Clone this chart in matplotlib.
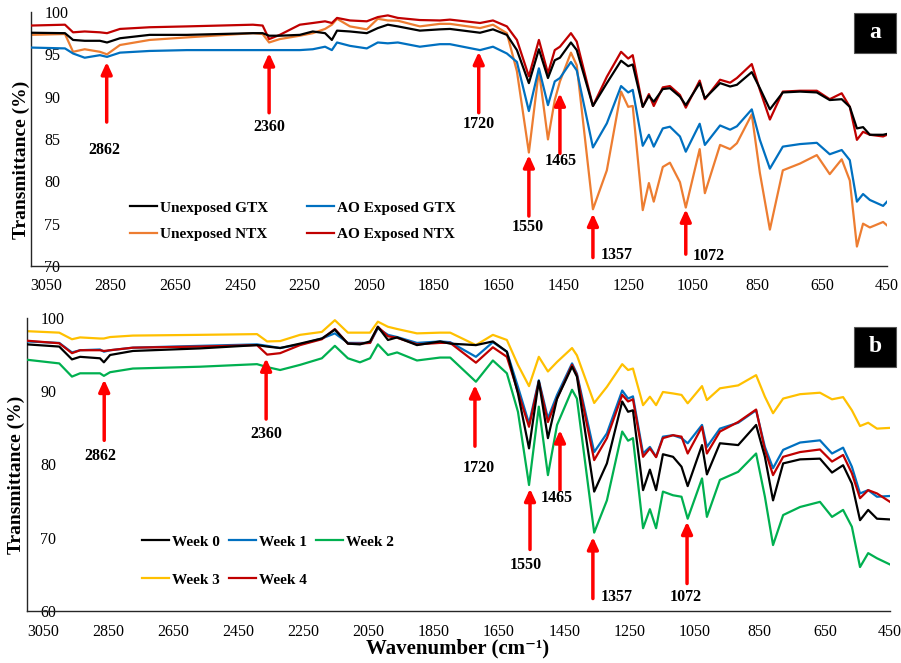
import matplotlib
matplotlib.use("Agg")
import matplotlib.pyplot as plt
from matplotlib.patches import Rectangle

plt.rcParams['font.family'] = ['Liberation Serif', 'DejaVu Serif']

# ---------------- Panel a data ----------------
wn_a = [3096, 2991, 2966, 2930, 2883, 2861, 2821, 2729, 2614, 2410,
        2380, 2360, 2327, 2265, 2225, 2187, 2166, 2150, 2110, 2058,
        2024, 1993, 1962, 1894, 1832, 1801, 1708, 1668, 1625, 1594,
        1557, 1526, 1498, 1477, 1461, 1427, 1409, 1359, 1316, 1272,
        1250, 1236, 1205, 1186, 1171, 1143, 1121, 1090, 1072, 1029,
        1013, 966, 935, 914, 868, 843, 812, 772, 719, 667,
        627, 590, 565, 543, 524, 503, 462, 450]

unexposed_gtx = [97.55, 97.5, 96.7, 96.6, 96.6, 96.4, 96.9, 97.3, 97.3, 97.5,
                 97.5, 97.2, 97.2, 97.3, 97.7, 97.5, 96.7, 97.8, 97.7, 97.5,
                 98.1, 98.5, 98.3, 97.8, 97.95, 98.0, 97.55, 97.95, 97.3, 95.5,
                 91.6, 95.6, 92.2, 94.3, 94.6, 96.4, 95.5, 88.9, 91.6, 94.25,
                 93.6, 93.8, 88.8, 90.1, 89.4, 90.9, 91.0, 90.0, 89.0, 91.6,
                 89.8, 91.6, 91.2, 91.4, 92.9, 91.0, 88.5, 90.5, 90.6, 90.5,
                 89.6, 89.7, 88.8, 86.25, 86.4, 85.5, 85.5, 85.6]

ao_exposed_gtx = [95.8, 95.7, 95.1, 94.6, 94.9, 94.7, 95.2, 95.4, 95.5, 95.5,
                  95.5, 95.5, 95.5, 95.5, 95.6, 95.9, 95.5, 96.4, 96.0, 95.7,
                  96.4, 96.3, 96.4, 95.9, 96.2, 96.2, 95.5, 95.9, 95.1, 94.1,
                  88.3, 93.35, 89.0, 91.8, 92.2, 94.1, 93.1, 84.0, 86.85, 91.25,
                  90.5, 90.8, 84.2, 85.5, 84.1, 86.25, 86.45, 85.3, 83.5, 86.8,
                  84.3, 86.6, 86.1, 86.5, 88.5, 84.9, 81.5, 84.1, 84.4, 84.55,
                  83.2, 83.7, 82.5, 77.6, 78.5, 77.8, 77.1, 77.6]

unexposed_ntx = [97.3, 97.4, 95.3, 95.6, 95.3, 95.0, 96.1, 96.7, 97.0, 97.5,
                 97.4, 96.4, 96.8, 97.2, 97.5, 98.0, 98.5, 99.2, 98.3, 97.95,
                 99.2, 99.0, 98.97, 98.3, 98.6, 98.6, 98.1, 98.5, 97.5, 93.0,
                 83.4, 93.1, 84.95, 89.6, 91.8, 95.2, 93.7, 76.7, 81.3, 90.6,
                 88.8, 88.9, 76.6, 79.8, 77.6, 81.7, 82.2, 79.9, 76.9, 83.8,
                 78.6, 84.3, 83.8, 84.5, 87.9, 81.0, 74.3, 81.3, 82.1, 83.1,
                 80.85, 82.6, 80.1, 72.3, 75.0, 74.55, 75.2, 74.8]

ao_exposed_ntx = [98.4, 98.5, 97.6, 97.7, 97.6, 97.5, 98.0, 98.2, 98.3, 98.5,
                  98.4, 96.8, 97.3, 98.5, 98.7, 98.9, 98.7, 99.3, 99.0, 98.9,
                  99.4, 99.6, 99.3, 99.05, 99.0, 99.1, 98.7, 99.0, 98.3, 96.7,
                  92.4, 96.7, 92.75, 95.5, 95.9, 97.5, 96.5, 88.9, 92.35, 95.3,
                  94.5, 94.9, 88.8, 90.3, 88.9, 91.1, 91.25, 90.2, 88.7, 91.9,
                  89.7, 92.0, 91.65, 92.2, 93.85, 90.8, 87.3, 90.6, 90.7, 90.7,
                  89.7, 90.4, 88.8, 84.9, 85.85, 85.5, 85.3, 85.5]

# ---------------- Panel b data ----------------
wn_b = [3099, 3000, 2961, 2936, 2875, 2863, 2844, 2774, 2568, 2393,
        2362, 2322, 2261, 2194, 2154, 2114, 2077, 2046, 2022, 1991,
        1963, 1902, 1831, 1800, 1721, 1669, 1626, 1592, 1558, 1528,
        1500, 1472, 1426, 1411, 1358, 1319, 1272, 1254, 1239, 1208,
        1187, 1168, 1147, 1116, 1090, 1071, 1027, 1012, 972, 916,
        861, 834, 809, 778, 726, 665, 628, 594, 567, 542,
        517, 490, 450]

week0 = [96.4, 96.1, 94.35, 94.7, 94.5, 93.95, 94.95, 95.5, 95.85, 96.3,
         96.1, 95.9, 96.5, 97.2, 98.4, 96.5, 96.4, 96.8, 98.8, 97.0,
         97.35, 96.3, 96.8, 96.5, 96.3, 96.8, 95.4, 89.7, 82.2, 91.4,
         83.6, 89.0, 93.35, 92.0, 76.3, 80.15, 88.6, 87.2, 87.4, 76.5,
         79.3, 76.5, 81.4, 81.05, 79.7, 77.05, 82.65, 78.65, 82.9, 82.65,
         85.4, 81.05, 75.1, 80.15, 80.7, 80.8, 78.9, 79.9, 77.4, 72.4,
         73.8, 72.6, 72.5]

week1 = [96.8, 96.6, 95.3, 95.6, 95.7, 95.4, 95.6, 95.95, 96.2, 96.4,
         96.2, 95.9, 96.4, 97.2, 97.9, 96.6, 96.6, 96.6, 98.6, 97.7,
         97.4, 96.6, 96.8, 96.7, 94.7, 96.7, 95.4, 90.6, 85.6, 91.5,
         86.3, 89.5, 93.8, 92.4, 81.7, 84.25, 90.1, 89.0, 89.3, 81.5,
         82.4, 81.05, 83.8, 84.0, 83.6, 82.9, 85.4, 82.4, 84.9, 85.7,
         87.4, 82.4, 79.5, 82.0, 83.0, 83.3, 81.5, 82.3, 79.7, 76.05,
         76.5, 75.6, 75.7]

week2 = [94.3, 93.8, 92.0, 92.45, 92.45, 92.1, 92.6, 93.1, 93.35, 93.7,
         93.3, 92.9, 93.6, 94.5, 96.2, 94.5, 93.95, 94.5, 96.4, 94.95,
         95.3, 94.2, 94.6, 94.6, 91.3, 94.2, 92.45, 87.2, 77.2, 87.9,
         78.55, 85.4, 90.2, 89.0, 70.7, 75.1, 84.5, 83.25, 83.6, 71.3,
         73.9, 71.3, 76.3, 75.8, 75.6, 72.6, 78.1, 72.85, 77.9, 79.0,
         81.5, 75.6, 69.0, 73.1, 74.2, 74.9, 72.85, 73.8, 71.5, 66.0,
         67.9, 67.2, 66.35]

week3 = [98.2, 98.0, 97.1, 97.35, 97.2, 97.2, 97.4, 97.6, 97.7, 97.8,
         96.8, 96.85, 97.7, 98.1, 99.7, 98.0, 98.0, 98.0, 99.5, 98.8,
         98.5, 97.9, 98.0, 98.0, 96.3, 97.7, 97.0, 93.6, 90.7, 94.7,
         92.7, 94.0, 95.9, 94.9, 88.4, 90.6, 93.7, 92.9, 93.1, 88.1,
         89.25, 88.1, 89.9, 89.7, 89.5, 88.35, 90.7, 88.8, 90.4, 90.8,
         92.2, 89.25, 87.0, 89.0, 89.6, 89.8, 88.9, 89.2, 87.4, 85.25,
         85.7, 84.9, 85.0]

week4 = [96.9, 96.55, 95.2, 95.6, 95.6, 95.5, 95.6, 95.95, 96.1, 96.3,
         95.0, 95.2, 96.3, 97.1, 98.5, 96.5, 96.5, 96.6, 98.8, 97.5,
         97.3, 96.4, 96.6, 96.6, 93.9, 96.0, 94.7, 89.9, 85.15, 91.3,
         85.8, 89.0, 93.6, 92.2, 80.6, 83.6, 89.5, 88.6, 88.9, 81.05,
         82.2, 81.0, 83.6, 84.0, 83.8, 81.5, 85.15, 81.5, 84.5, 85.8,
         87.5, 82.0, 78.55, 81.05, 81.7, 82.05, 80.4, 81.3, 78.8, 75.4,
         76.5, 76.05, 74.9]

xticks = [3050, 2850, 2650, 2450, 2250, 2050, 1850, 1650, 1450, 1250, 1050, 850, 650, 450]
yticks_a = [70, 75, 80, 85, 90, 95, 100]
yticks_b = [60, 70, 80, 90, 100]

# arrows: (label, x, head, tail, label_x, label_y)
arrows_a = [("2862", 2862, 94.1, 87.0, 2870, 83.7),
            ("2360", 2360, 95.15, 88.1, 2360, 86.4),
            ("1720", 1712, 95.3, 88.1, 1712, 86.8),
            ("1550", 1557, 83.1, 75.9, 1560, 74.6),
            ("1465", 1461, 90.4, 83.3, 1458, 82.4),
            ("1357", 1359, 76.2, 71.0, 1285, 71.3),
            ("1072", 1072, 76.7, 71.4, 1000, 71.2)]
arrows_b = [("2862", 2862, 91.6, 83.3, 2875, 81.1),
            ("2360", 2365, 94.5, 86.2, 2365, 84.2),
            ("1720", 1724, 90.85, 82.5, 1712, 79.55),
            ("1550", 1555, 76.7, 68.4, 1567, 66.3),
            ("1465", 1463, 84.7, 76.5, 1472, 75.4),
            ("1357", 1362, 70.1, 61.7, 1290, 61.9),
            ("1072", 1073, 72.2, 63.75, 1078, 61.9)]

C_BLACK = '#000000'
C_BLUE = '#0070C0'
C_ORANGE = '#ED7D31'
C_RED = '#C00000'
C_GREEN = '#00B050'
C_YELLOW = '#FFC000'

W, H = 901, 663
fig = plt.figure(figsize=(W / 100, H / 100), dpi=100)


def style_axes(ax, xlim, ylim, yticks):
    ax.set_xlim(*xlim)
    ax.set_ylim(*ylim)
    ax.set_xticks(xticks)
    ax.set_yticks(yticks)
    for s in ['top', 'right']:
        ax.spines[s].set_visible(False)
    for s in ['left', 'bottom']:
        ax.spines[s].set_linewidth(1.0)
        ax.spines[s].set_color('#262626')
    ax.tick_params(axis='both', length=0, labelsize=11.5)
    ax.tick_params(axis='x', pad=9)
    ax.tick_params(axis='y', pad=-9.5)
    for lab in ax.get_yticklabels():
        lab.set_horizontalalignment('left')


def draw_arrows(ax, arrows):
    for lab, x, head, tail, lx, ly in arrows:
        ax.annotate('', xy=(x, head), xytext=(x, tail),
                    arrowprops=dict(arrowstyle='-|>,head_width=0.32,head_length=0.7',
                                    color='#FF0000', lw=2.5, shrinkA=0, shrinkB=0))
        ax.text(lx, ly, lab, ha='center', va='center', fontsize=11.5, fontweight='bold')


# ---------- Panel a ----------
ax_a = fig.add_axes([31 / W, 1 - 266 / H, (887 - 31) / W, (266 - 12) / H])
lw = 1.6
la1, = ax_a.plot(wn_a, unexposed_gtx, color=C_BLACK, lw=lw, label='Unexposed GTX', zorder=4)
la2, = ax_a.plot(wn_a, ao_exposed_gtx, color=C_BLUE, lw=lw, label='AO Exposed GTX', zorder=3)
la3, = ax_a.plot(wn_a, unexposed_ntx, color=C_ORANGE, lw=lw, label='Unexposed NTX', zorder=2)
la4, = ax_a.plot(wn_a, ao_exposed_ntx, color=C_RED, lw=lw, label='AO Exposed NTX', zorder=3)
style_axes(ax_a, (3096, 450), (70, 100), yticks_a)
draw_arrows(ax_a, arrows_a)
ax_a.legend(handles=[la1, la3, la2, la4], ncol=2, frameon=False,
            loc='upper left', bbox_to_anchor=(130 / W, 1 - 201 / H),
            bbox_transform=fig.transFigure, borderpad=0, borderaxespad=0,
            prop={'weight': 'bold', 'size': 11}, handlelength=1.75,
            handletextpad=0.2, columnspacing=2.55, labelspacing=0.85)
ax_a.set_ylabel('Transmittance (%)', fontsize=14, fontweight='bold')
ax_a.yaxis.set_label_coords(30 / W, 1 - 160 / H, transform=fig.transFigure)

# ---------- Panel b ----------
ax_b = fig.add_axes([27 / W, 1 - 611 / H, (890 - 27) / W, (611 - 318) / H])
lb0, = ax_b.plot(wn_b, week0, color=C_BLACK, lw=lw, label='Week 0', zorder=4)
lb1, = ax_b.plot(wn_b, week1, color=C_BLUE, lw=lw, label='Week 1', zorder=3)
lb2, = ax_b.plot(wn_b, week2, color=C_GREEN, lw=lw, label='Week 2', zorder=3)
lb3, = ax_b.plot(wn_b, week3, color=C_YELLOW, lw=lw, label='Week 3', zorder=2)
lb4, = ax_b.plot(wn_b, week4, color=C_RED, lw=lw, label='Week 4', zorder=3)
style_axes(ax_b, (3099, 450), (60, 100), yticks_b)
draw_arrows(ax_b, arrows_b)
ax_b.legend(handles=[lb0, lb3, lb1, lb4, lb2], ncol=3, frameon=False,
            loc='upper left', bbox_to_anchor=(142 / W, 1 - 535 / H),
            bbox_transform=fig.transFigure, borderpad=0, borderaxespad=0,
            prop={'weight': 'bold', 'size': 11}, handlelength=1.75,
            handletextpad=0.2, columnspacing=0.6, labelspacing=1.6)
ax_b.set_ylabel('Transmittance (%)', fontsize=14, fontweight='bold')
ax_b.yaxis.set_label_coords(25 / W, 1 - 475 / H, transform=fig.transFigure)
ax_b.set_xlabel('Wavenumber (cm\u207b\u00b9)', fontsize=15, fontweight='bold')
ax_b.xaxis.set_label_coords(458 / W, 1 - 638 / H, transform=fig.transFigure)

# ---------- panel letters ----------
for letter, cy in [('a', 33), ('b', 347)]:
    fig.patches.append(Rectangle((854 / W, 1 - (cy + 20) / H), 42 / W, 40 / H,
                                 transform=fig.transFigure, facecolor='black',
                                 edgecolor='#555555', lw=0.8, zorder=5))
    fig.text(875 / W, 1 - cy / H, letter, color='white', fontsize=17, fontweight='bold',
             ha='center', va='center', zorder=6)

fig.savefig('out.png', dpi=100)
